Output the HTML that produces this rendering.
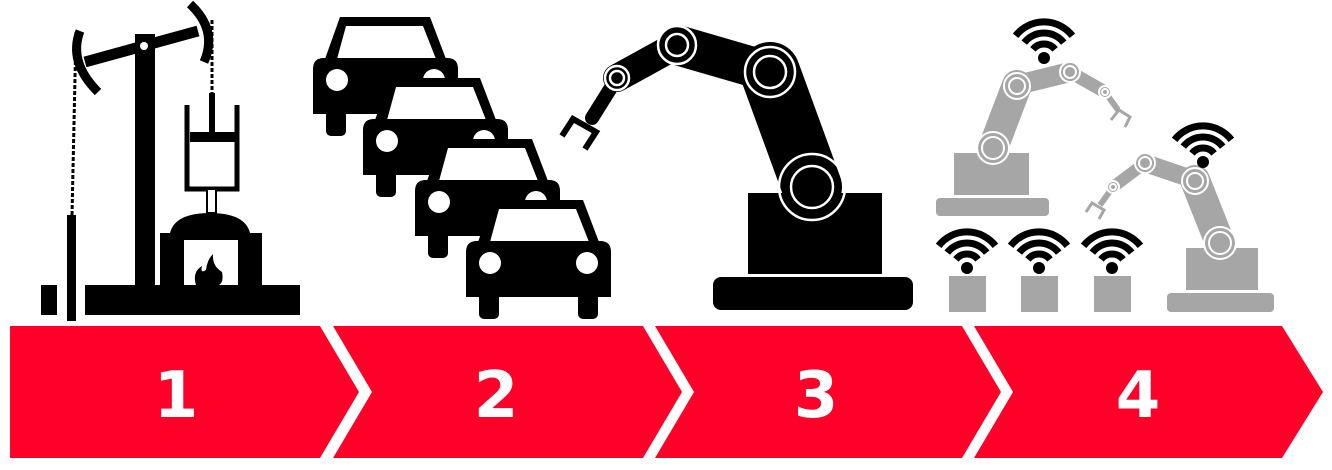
<!DOCTYPE html>
<html><head><meta charset="utf-8"><style>html,body{margin:0;padding:0;background:#fff}svg{display:block}</style></head>
<body>
<svg width="1332" height="470" viewBox="0 0 1332 470" xmlns="http://www.w3.org/2000/svg">
<defs>
<g id="car">
 <polygon points="12,42 27,0 117,0 133,42" fill="#000"/>
 <polygon points="24,42 33,9 110,9 123,42" fill="#fff"/>
 <path d="M0,52 Q0,41 11,41 L134,41 Q145,41 145,52 L145,97 L0,97 Z" fill="#000"/>
 <rect x="13" y="90" width="20" height="29" rx="5" fill="#000"/>
 <rect x="112" y="90" width="20" height="29" rx="5" fill="#000"/>
 <circle cx="24" cy="63" r="11" fill="#fff"/>
 <circle cx="121" cy="63" r="11" fill="#fff"/>
</g>
<g id="wifi" fill="none" stroke="#000" stroke-width="7">
 <path d="M-11,-8.6 A14,14 0 0 1 11,-8.6"/>
 <path d="M-19.7,-15.4 A25,25 0 0 1 19.7,-15.4"/>
 <path d="M-28.4,-22.2 A36,36 0 0 1 28.4,-22.2"/>
 <circle cx="0" cy="0" r="6" fill="#000" stroke="none"/>
</g>
</defs>

<!-- chevrons -->
<g fill="#ff0029">
 <polygon points="10,326 320,326 359,392 320,458 10,458"/>
 <polygon points="333,326 643,326 682,392 643,458 333,458 372,392"/>
 <polygon points="655,326 962,326 1001,392 962,458 655,458 694,392"/>
 <polygon points="974,326 1282,326 1323,392 1282,458 974,458 1013,392"/>
</g>
<g fill="#fff" font-family="'DejaVu Sans','Liberation Sans',sans-serif" font-weight="bold" font-size="64" text-anchor="middle">
 <text x="176" y="417">1</text>
 <text x="496" y="417">2</text>
 <text x="816" y="417">3</text>
 <text x="1138" y="417">4</text>
</g>

<!-- Icon 1: pump -->
<g fill="#000">
 <rect x="85" y="285" width="215" height="30"/>
 <rect x="41" y="285" width="16" height="30"/>
 <rect x="67" y="215" width="9" height="106"/>
 <rect x="135" y="34" width="20" height="252"/>
 <line x1="85" y1="62" x2="198" y2="31" stroke="#000" stroke-width="11"/>
 <circle cx="144" cy="46" r="4" fill="#fff"/>
 <path d="M80,31 Q68,62 98,92" fill="none" stroke="#000" stroke-width="9"/>
 <path d="M190,4 Q218,30 204,62" fill="none" stroke="#000" stroke-width="9"/>
 <line x1="72" y1="215" x2="76" y2="32" stroke="#000" stroke-width="3" stroke-dasharray="4,2"/>
 <line x1="212" y1="20" x2="212" y2="95" stroke="#000" stroke-width="3" stroke-dasharray="4,2"/>
 <rect x="209" y="93" width="6" height="40"/>
 <path d="M187,105 L187,189 L237,189 L237,105" fill="none" stroke="#000" stroke-width="5"/>
 <rect x="190" y="132" width="45" height="10"/>
 <rect x="207" y="189" width="9" height="24" fill="#fff" stroke="#000" stroke-width="2"/>
 <path d="M170,233 Q175,213 210,213 Q245,213 250,233 Z"/>
 <rect x="160" y="233" width="102" height="52"/>
 <rect x="184" y="240" width="54" height="45" fill="#fff"/>
 <path d="M196,285 Q192,272 202,266 Q200,274 206,270 Q207,260 213,254 Q212,266 222,272 Q224,282 219,285 Z"/>
</g>

<!-- Icon 2: cars -->
<use href="#car" x="313" y="17"/>
<use href="#car" x="363" y="78" stroke="#fff" stroke-width="0"/>
<use href="#car" x="415" y="139"/>
<use href="#car" x="466" y="200"/>

<!-- Icon 3: robot arm -->
<g>
 <rect x="713" y="277" width="200" height="33" rx="8" fill="#000"/>
 <rect x="748" y="193" width="134" height="81" fill="#000"/>
 <line x1="592" y1="118" x2="617" y2="78" stroke="#000" stroke-width="14" stroke-linecap="round"/>
 <polyline points="562,136 573,119 596,132 585,149" fill="none" stroke="#000" stroke-width="6"/>
 <line x1="617" y1="78" x2="677" y2="45" stroke="#000" stroke-width="28" stroke-linecap="round"/>
 <line x1="677" y1="45" x2="770" y2="72" stroke="#000" stroke-width="40" stroke-linecap="round"/>
 <line x1="770" y1="72" x2="812" y2="187" stroke="#000" stroke-width="60" stroke-linecap="round"/>
 <g fill="none" stroke="#fff" stroke-width="2.5">
  <circle cx="812" cy="187" r="21"/><circle cx="812" cy="187" r="33"/>
  <circle cx="770" cy="72" r="16"/><circle cx="770" cy="72" r="25"/>
  <circle cx="677" cy="45" r="11"/><circle cx="677" cy="45" r="19"/>
  <circle cx="617" cy="78" r="7"/><circle cx="617" cy="78" r="12"/>
 </g>
</g>

<!-- Icon 4: gray robots -->
<g fill="#a6a6a6">
 <rect x="936" y="198" width="113" height="18" rx="4"/>
 <rect x="954" y="153" width="75" height="42"/>
 <line x1="1105" y1="92" x2="1118" y2="110" stroke="#a6a6a6" stroke-width="6"/>
 <polyline points="1111,120 1119,110 1130,117 1125,127" fill="none" stroke="#a6a6a6" stroke-width="3"/>
 <line x1="1070" y1="72" x2="1105" y2="92" stroke="#a6a6a6" stroke-width="13" stroke-linecap="round"/>
 <line x1="1017" y1="85" x2="1070" y2="72" stroke="#a6a6a6" stroke-width="20" stroke-linecap="round"/>
 <line x1="993" y1="148" x2="1017" y2="85" stroke="#a6a6a6" stroke-width="30" stroke-linecap="round"/>
 <g fill="none" stroke="#fff" stroke-width="2">
  <circle cx="993" cy="148" r="11"/><circle cx="993" cy="148" r="16"/>
  <circle cx="1017" cy="86" r="8"/><circle cx="1017" cy="86" r="13"/>
  <circle cx="1070" cy="72" r="6"/><circle cx="1070" cy="72" r="10"/>
  <circle cx="1105" cy="92" r="3"/><circle cx="1105" cy="92" r="6"/>
 </g>

 <rect x="1167" y="293" width="107" height="19" rx="4"/>
 <rect x="1186" y="248" width="72" height="42"/>
 <line x1="1113" y1="187" x2="1100" y2="205" stroke="#a6a6a6" stroke-width="6"/>
 <polyline points="1086,212 1092,203 1104,210 1099,219" fill="none" stroke="#a6a6a6" stroke-width="3"/>
 <line x1="1145" y1="163" x2="1113" y2="187" stroke="#a6a6a6" stroke-width="12" stroke-linecap="round"/>
 <line x1="1195" y1="180" x2="1145" y2="163" stroke="#a6a6a6" stroke-width="18" stroke-linecap="round"/>
 <line x1="1220" y1="243" x2="1195" y2="180" stroke="#a6a6a6" stroke-width="30" stroke-linecap="round"/>
 <g fill="none" stroke="#fff" stroke-width="2">
  <circle cx="1220" cy="243" r="11"/><circle cx="1220" cy="243" r="16"/>
  <circle cx="1195" cy="181" r="8"/><circle cx="1195" cy="181" r="13"/>
  <circle cx="1145" cy="163" r="6"/><circle cx="1145" cy="163" r="10"/>
  <circle cx="1113" cy="187" r="3"/><circle cx="1113" cy="187" r="6"/>
 </g>

 <rect x="949" y="276" width="37" height="36"/>
 <rect x="1021" y="276" width="37" height="36"/>
 <rect x="1094" y="276" width="37" height="36"/>
</g>
<use href="#wifi" x="1044" y="58"/>
<use href="#wifi" x="1203" y="162"/>
<use href="#wifi" x="967" y="268"/>
<use href="#wifi" x="1039" y="268"/>
<use href="#wifi" x="1112" y="268"/>
</svg>
</body></html>
